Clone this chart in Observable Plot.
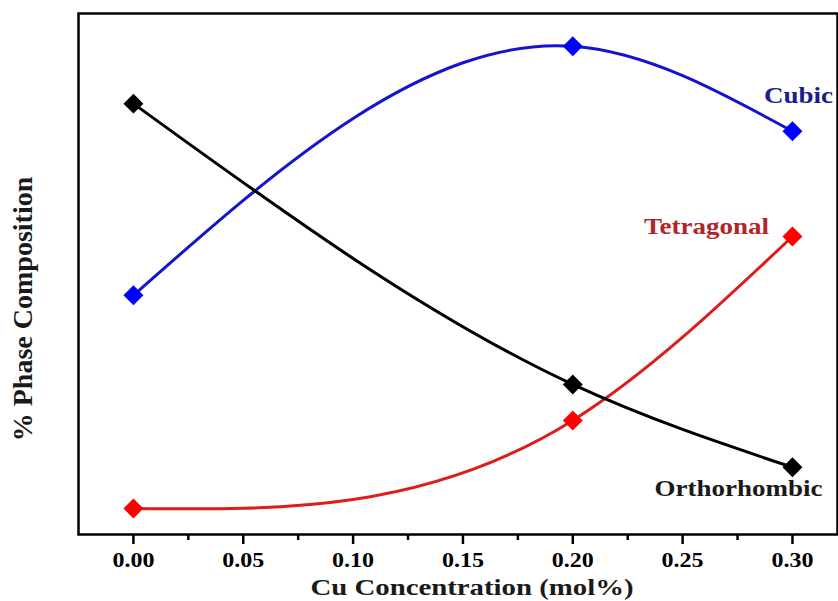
<!DOCTYPE html>
<html>
<head>
<meta charset="utf-8">
<script src="https://cdn.jsdelivr.net/npm/d3@7"></script>
<script src="https://cdn.jsdelivr.net/npm/@observablehq/plot@0.6"></script>
<style>
  html, body { margin: 0; padding: 0; background: #fff; overflow: hidden; }
  #chart { width: 838px; height: 601px; }
</style>
</head>
<body>
<div id="chart"></div>
<script>
// ---- data ----
const concentration = [0.00, 0.20, 0.30];          // Cu concentration (mol%)
const cubic        = [45.9, 93.7, 77.4];           // % phase (relative units)
const tetragonal   = [5.0, 21.9, 57.2];
const orthorhombic = [82.7, 28.8, 12.9];
const seriesNames  = ["Cubic", "Tetragonal", "Orthorhombic"];
const seriesValues = [cubic, tetragonal, orthorhombic];
const majorTicks = [0.00, 0.05, 0.10, 0.15, 0.20, 0.25, 0.30];
const minorTicks = [0.025, 0.075, 0.125, 0.175, 0.225, 0.275];
const xTitle = "Cu Concentration (mol%)";
const yTitle = "% Phase Composition";

// ---- styling ----
const lineColor  = {Cubic: "#1414cc", Tetragonal: "#dd1c1c", Orthorhombic: "#000000"};
const dotColor   = {Cubic: "#0000ff", Tetragonal: "#ff0000", Orthorhombic: "#000000"};
const labelColor = {Cubic: "#1c1c8c", Tetragonal: "#b3242a", Orthorhombic: "#1a1a1a"};
const labelOffset = {Cubic: [6, -35], Tetragonal: [-86, -10], Orthorhombic: [-54, 22]};

const rows = seriesNames.flatMap((s, k) =>
  concentration.map((c, i) => ({series: s, x: c, y: seriesValues[k][i]})));
const lastRows = seriesNames.map((s, k) => ({
  series: s, x: concentration[concentration.length - 1],
  y: seriesValues[k][seriesValues[k].length - 1]}));

// natural cubic spline of y as a function of x (drawn by d3.line through Plot)
function splineX(context) {
  let xs, ys;
  return {
    areaStart() {}, areaEnd() {},
    lineStart() { xs = []; ys = []; },
    point(x, y) { xs.push(+x); ys.push(+y); },
    lineEnd() {
      const n = xs.length;
      if (!n) return;
      context.moveTo(xs[0], ys[0]);
      if (n === 1) return;
      if (n === 2) { context.lineTo(xs[1], ys[1]); return; }
      const h = [], d = [];
      for (let i = 0; i < n - 1; i++) { h[i] = xs[i+1] - xs[i]; d[i] = (ys[i+1] - ys[i]) / h[i]; }
      const m = n - 2, a = [], b = [], c = [], r = [];
      for (let j = 0; j < m; j++) {
        const i = j + 1;
        a[j] = h[i-1]; b[j] = 2 * (h[i-1] + h[i]); c[j] = h[i]; r[j] = 6 * (d[i] - d[i-1]);
      }
      for (let j = 1; j < m; j++) {
        const w = a[j] / b[j-1];
        b[j] -= w * c[j-1]; r[j] -= w * r[j-1];
      }
      const M = new Array(n).fill(0);
      for (let j = m - 1; j >= 0; j--) {
        M[j+1] = (r[j] - (j < m - 1 ? c[j] * M[j+2] : 0)) / b[j];
      }
      for (let i = 0; i < n - 1; i++) {
        const s0 = d[i] - h[i] * (2 * M[i] + M[i+1]) / 6;
        const s1 = d[i] + h[i] * (M[i] + 2 * M[i+1]) / 6;
        context.bezierCurveTo(xs[i] + h[i] / 3, ys[i] + s0 * h[i] / 3,
                              xs[i+1] - h[i] / 3, ys[i+1] - s1 * h[i] / 3,
                              xs[i+1], ys[i+1]);
      }
    }
  };
}

const font = "'Liberation Serif', 'Times New Roman', serif";

const plot = Plot.plot({
  width: 838,
  height: 601,
  marginLeft: 78,
  marginRight: 1,
  marginTop: 13,
  marginBottom: 67,
  style: {fontFamily: font, fontWeight: "bold", background: "#fff", color: "#000", overflow: "visible"},
  x: {domain: [-0.025, 0.3205]},
  y: {domain: [0, 100], axis: null},
  marks: [
    Plot.frame({stroke: "#000", strokeWidth: 2.5}),
    Plot.axisX(minorTicks, {anchor: "bottom", tickSize: 6, strokeWidth: 2.5, text: null, label: null}),
    Plot.axisX(majorTicks, {anchor: "bottom", tickSize: 10, tickPadding: 8, strokeWidth: 2.5,
      tickFormat: d3.format(".2f"), fontSize: 20, fontWeight: "bold", label: null}),
    Plot.text([xTitle], {frameAnchor: "bottom", lineAnchor: "top", dy: 43, dx: 14,
      fontSize: 24, fontWeight: "bold", fill: "#1a1a1a"}),
    Plot.text([yTitle], {frameAnchor: "left", textAnchor: "middle", rotate: -90, dx: -55, dy: 35,
      fontSize: 28, fontWeight: "bold", fill: "#1a1a1a"}),
    ...seriesNames.map(s => Plot.line(rows.filter(d => d.series === s), {
      x: "x", y: "y", stroke: lineColor[s], strokeWidth: 3, curve: splineX})),
    ...seriesNames.map(s => Plot.dot(rows.filter(d => d.series === s), {
      x: "x", y: "y", symbol: "diamond2", r: 9, fill: dotColor[s], stroke: null})),
    ...seriesNames.map(s => Plot.text(lastRows.filter(d => d.series === s), {
      x: "x", y: "y", text: "series", dx: labelOffset[s][0], dy: labelOffset[s][1],
      fontSize: 22.5, fontWeight: "bold", fill: labelColor[s]}))
  ]
});

document.getElementById("chart").appendChild(plot);

// the reference's lettering is slightly widened horizontally: stretch horizontal texts
const S = 1.2;
plot.querySelectorAll("text").forEach(el => {
  const t = el.getAttribute("transform") || "";
  if (t.includes("rotate")) return;
  const L = el.getComputedTextLength();
  if (L > 0) {
    el.setAttribute("textLength", (L * S).toFixed(1));
    el.setAttribute("lengthAdjust", "spacingAndGlyphs");
  }
});
</script>
</body>
</html>
